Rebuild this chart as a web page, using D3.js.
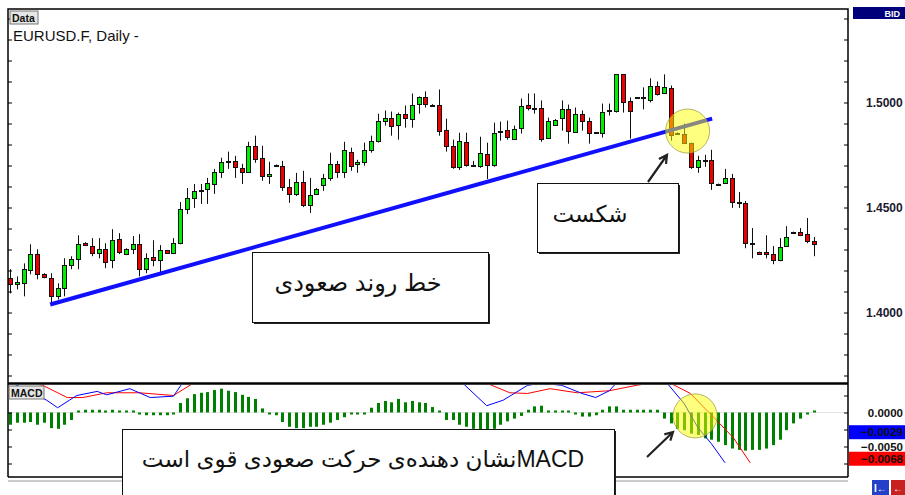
<!DOCTYPE html>
<html>
<head>
<meta charset="utf-8">
<script src="https://cdn.jsdelivr.net/npm/d3@7"></script>
<style>
body { margin: 0; background: #fff; }
svg { display: block; font-family: "Liberation Sans", Arial, sans-serif; }
</style>
</head>
<body>
<div id="graph"></div>
<script>
// EURUSD daily candles
var open = [
  1.4163,1.4134,1.4139,1.4201,1.4278,1.4182,1.4163,1.4077,1.4115,1.4225,
  1.4254,1.4330,1.4316,1.4282,1.4301,1.4249,1.4349,1.4278,1.4301,1.4325,
  1.4206,1.4263,1.4249,1.4297,1.4282,1.4330,1.4493,1.4545,1.4576,1.4589,
  1.4612,1.4670,1.4718,1.4722,1.4689,1.4670,1.4794,1.4737,1.4651,1.4699,
  1.4699,1.4598,1.4565,1.4622,1.4512,1.4565,1.4608,1.4641,1.4708,1.4670,
  1.4766,1.4708,1.4718,1.4775,1.4818,1.4914,1.4928,1.4890,1.4943,1.4923,
  1.4990,1.5024,1.4990,1.4986,1.4871,1.4794,1.4694,1.4813,1.4703,1.4699,
  1.4756,1.4703,1.4861,1.4871,1.4828,1.4876,1.4986,1.4976,1.4976,1.4833,
  1.4895,1.4923,1.4967,1.4861,1.4947,1.4914,1.4858,1.4856,1.4962,1.4957,
  1.5134,1.5005,1.5024,1.5024,1.5010,1.5077,1.5043,1.5067,1.4856,1.4852,
  1.4809,1.4694,1.4727,1.4727,1.4608,1.4617,1.4641,1.4526,1.4522,1.4330,
  1.4287,1.4287,1.4278,1.4249,1.4316,1.4383,1.4383,1.4373,1.4340];
var high = [
  1.4206,1.4172,1.4234,1.4325,1.4301,1.4187,1.4187,1.4139,1.4258,1.4268,
  1.4368,1.4335,1.4354,1.4354,1.4330,1.4397,1.4378,1.4306,1.4364,1.4373,
  1.4282,1.4344,1.4321,1.4297,1.4354,1.4526,1.4593,1.4612,1.4612,1.4641,
  1.4684,1.4737,1.4766,1.4746,1.4708,1.4813,1.4842,1.4794,1.4718,1.4705,
  1.4722,1.4636,1.4665,1.4675,1.4641,1.4593,1.4660,1.4761,1.4722,1.4813,
  1.4785,1.4727,1.4809,1.4842,1.4947,1.4962,1.4957,1.4952,1.4986,1.5043,
  1.5029,1.5053,1.4992,1.5062,1.4923,1.4823,1.4856,1.4856,1.4722,1.4837,
  1.4809,1.4904,1.4909,1.4914,1.4890,1.5019,1.5043,1.5043,1.5010,1.4928,
  1.4921,1.5010,1.4990,1.4976,1.4962,1.4928,1.4858,1.4995,1.4995,1.5134,
  1.5134,1.5024,1.5026,1.5072,1.5115,1.5100,1.5134,1.5081,1.4858,1.4900,
  1.4809,1.4746,1.4751,1.4775,1.4614,1.4684,1.4660,1.4574,1.4531,1.4402,
  1.4290,1.4368,1.4316,1.4354,1.4411,1.4385,1.4402,1.4450,1.4359];
var low = [
  1.4091,1.4110,1.4077,1.4182,1.4158,1.4163,1.4038,1.4062,1.4077,1.4206,
  1.4206,1.4316,1.4268,1.4258,1.4211,1.4211,1.4278,1.4273,1.4278,1.4172,
  1.4187,1.4220,1.4182,1.4282,1.4278,1.4325,1.4469,1.4498,1.4517,1.4517,
  1.4565,1.4641,1.4684,1.4641,1.4612,1.4670,1.4713,1.4627,1.4612,1.4699,
  1.4579,1.4522,1.4555,1.4502,1.4474,1.4560,1.4579,1.4627,1.4641,1.4641,
  1.4675,1.4665,1.4699,1.4761,1.4809,1.4890,1.4842,1.4823,1.4880,1.4880,
  1.4947,1.4976,1.4984,1.4842,1.4766,1.4684,1.4679,1.4694,1.4699,1.4689,
  1.4636,1.4694,1.4818,1.4823,1.4823,1.4852,1.4962,1.4947,1.4813,1.4828,
  1.4893,1.4866,1.4804,1.4856,1.4866,1.4804,1.4856,1.4833,1.4938,1.4952,
  1.4952,1.4828,1.5020,1.4967,1.5000,1.5033,1.5043,1.4818,1.4852,1.4804,
  1.4684,1.4665,1.4694,1.4584,1.4606,1.4612,1.4498,1.4498,1.4306,1.4258,
  1.4276,1.4258,1.4230,1.4244,1.4316,1.4380,1.4364,1.4330,1.4268];
var close = [
  1.4134,1.4144,1.4206,1.4278,1.4182,1.4167,1.4077,1.4115,1.4225,1.4254,
  1.4325,1.4321,1.4282,1.4301,1.4239,1.4344,1.4287,1.4301,1.4325,1.4206,
  1.4258,1.4249,1.4297,1.4282,1.4330,1.4493,1.4545,1.4579,1.4581,1.4617,
  1.4670,1.4718,1.4722,1.4694,1.4670,1.4794,1.4732,1.4651,1.4660,1.4703,
  1.4598,1.4565,1.4622,1.4512,1.4560,1.4589,1.4641,1.4708,1.4670,1.4775,
  1.4699,1.4718,1.4775,1.4818,1.4914,1.4928,1.4890,1.4943,1.4923,1.4990,
  1.5024,1.4990,1.4986,1.4861,1.4794,1.4694,1.4818,1.4703,1.4699,1.4761,
  1.4703,1.4856,1.4863,1.4837,1.4876,1.4981,1.4971,1.4974,1.4828,1.4914,
  1.4919,1.4967,1.4861,1.4947,1.4914,1.4856,1.4856,1.4957,1.4964,1.5134,
  1.5000,1.4957,1.5022,1.5019,1.5077,1.5038,1.5072,1.4842,1.4854,1.4809,
  1.4694,1.4727,1.4722,1.4617,1.4612,1.4641,1.4526,1.4522,1.4330,1.4325,
  1.4278,1.4278,1.4249,1.4311,1.4359,1.4381,1.4368,1.4340,1.4325];

// MACD histogram, one bar per candle
var hist = [
  -0.0018,-0.0015,-0.0015,-0.0014,-0.0018,-0.0015,-0.0023,-0.0024,-0.0018,-0.0011,
   0.0001, 0.0004, 0.0004, 0.0004, 0.0002, 0.0004, 0.0002, 0.0001, 0.0001,-0.0002,
  -0.0004,-0.0004,-0.0004,-0.0004,-0.0001, 0.0014, 0.0021, 0.0027, 0.0029, 0.0030,
   0.0033, 0.0035, 0.0032, 0.0030, 0.0026, 0.0023, 0.0020, 0.0006,-0.0001,-0.0004,
  -0.0014,-0.0021,-0.0023,-0.0023,-0.0021,-0.0021,-0.0018,-0.0015,-0.0011,-0.0007,
  -0.0002,-0.0001,-0.0001, 0.0007, 0.0014, 0.0017, 0.0015, 0.0020, 0.0015, 0.0017,
   0.0015, 0.0014, 0.0008, 0.0001,-0.0011,-0.0011,-0.0018,-0.0021,-0.0024,-0.0025,
  -0.0025,-0.0024,-0.0018,-0.0013,-0.0009,-0.0005, 0.0004, 0.0009, 0.0010, 0.0001,
   0.0001, 0.0001, 0.0001,-0.0001,-0.0006,-0.0006,-0.0004, 0.0004, 0.0009, 0.0009,
   0.0004, 0.0004, 0.0004, 0.0004, 0.0004, 0.0004,-0.0009,-0.0016,-0.0024,-0.0026,
  -0.0031,-0.0033,-0.0038,-0.0040,-0.0043,-0.0048,-0.0053,-0.0055,-0.0056,-0.0055,
  -0.0055,-0.0053,-0.0048,-0.0040,-0.0026,-0.0016,-0.0009,-0.0001, 0.0001];

// MACD (blue) and signal (red) lines, points read where visible
var macdIdx = [0, 5.4, 7, 9.8, 12.8, 14.2, 17.6, 20.6, 24, 25.3, 27, 66.5, 70, 72.4, 76, 78, 81, 84, 86, 88, 89, 90.5, 96.5, 99, 101, 103, 105];
var macdVal = [0.0045, 0.0018, 0.0007, 0.0025, 0.0031, 0.0026, 0.0035, 0.0022, 0.0024, 0.0043, 0.0060, 0.0043, 0.0010, 0.0018, 0.0040, 0.0043, 0.0040, 0.0028, 0.0022, 0.0032, 0.0043, 0.0055, 0.0043, 0.0013, -0.0022, -0.0046, -0.0074];
var sigIdx = [0, 4.8, 8.4, 10.7, 14.2, 19, 24, 26.9, 30, 68, 70, 73.4, 76, 79.3, 83.3, 88, 92, 94, 95.5, 97, 99.9, 103.8, 106.2, 108.7];
var sigVal = [0.0050, 0.0040, 0.0022, 0.0022, 0.0029, 0.0029, 0.0025, 0.0043, 0.0060, 0.0060, 0.0043, 0.0029, 0.0028, 0.0035, 0.0029, 0.0032, 0.0040, 0.0043, 0.0046, 0.0043, 0.0028, -0.0012, -0.0037, -0.0074];

// axis ticks and labels
var priceTicks = d3.range(137, 155).map(function(d) { return d / 100; });
var priceLabels = [1.40, 1.45, 1.50];
var macdTicks = [0.0025, 0, -0.0025, -0.005, -0.0075];
var macdLabels = [0, -0.005];
var macdNow = [-0.0029, -0.0068];

// up-trend line (index, price)
var trendIdx = [5.9, 103.1];
var trendVal = [1.4038, 1.4923];

var W = 905, H = 495;
var main = {left: 8, right: 848, top: 9, bottom: 383};
var sub = {top: 384, bottom: 477};

var svg = d3.select("#graph").append("svg")
    .attr("width", W)
    .attr("height", H);

var x = d3.scaleLinear().domain([0, open.length - 1]).range([10, 813.6]);
var y = d3.scaleLinear().domain([1.4, 1.5]).range([312.5, 102.5]);
var ym = d3.scaleLinear().domain([-0.005, 0]).range([446.5, 412.5]);

var defs = svg.append("defs");
defs.append("clipPath").attr("id", "clipMain").append("rect")
    .attr("x", main.left).attr("y", main.top)
    .attr("width", main.right - main.left).attr("height", main.bottom - main.top);
defs.append("clipPath").attr("id", "clipSub").append("rect")
    .attr("x", main.left).attr("y", sub.top + 1)
    .attr("width", main.right - main.left).attr("height", sub.bottom - sub.top - 1);

// ---- MACD panel
var gs = svg.append("g").attr("clip-path", "url(#clipSub)");
gs.append("line")
    .attr("x1", main.left).attr("x2", main.right)
    .attr("y1", ym(0)).attr("y2", ym(0))
    .style("stroke", "#e4e4e4");
gs.selectAll(".bar")
    .data(hist)
  .enter().append("rect")
    .attr("class", "bar")
    .attr("x", function(d, i) { return Math.round(x(i)) - 1; })
    .attr("width", 3)
    .attr("y", function(d) { var h = Math.max(2, Math.abs(ym(d) - ym(0))); return d >= 0 ? ym(0) - h : ym(0); })
    .attr("height", function(d) { return Math.max(2, Math.abs(ym(d) - ym(0))); })
    .style("fill", "#008000");

var mline = d3.line()
    .x(function(d) { return x(d[0]); })
    .y(function(d) { return ym(d[1]); });
gs.append("path")
    .datum(d3.zip(sigIdx, sigVal))
    .attr("d", mline)
    .style("fill", "none").style("stroke", "#ff0000").style("stroke-width", 1);
gs.append("path")
    .datum(d3.zip(macdIdx, macdVal))
    .attr("d", mline)
    .style("fill", "none").style("stroke", "#0000ff").style("stroke-width", 1);

// ---- candles
var gc = svg.append("g").attr("clip-path", "url(#clipMain)");
var candles = gc.selectAll(".candle")
    .data(open)
  .enter().append("g")
    .attr("class", "candle")
    .attr("transform", function(d, i) { return "translate(" + (Math.round(x(i)) + 0.5) + ",0)"; });
candles.append("line")
    .attr("y1", function(d, i) { return y(high[i]); })
    .attr("y2", function(d, i) { return y(low[i]); })
    .style("stroke", "#111").style("stroke-width", 1);
candles.append("rect")
    .attr("x", -2)
    .attr("width", 4)
    .attr("y", function(d, i) { return Math.round(y(Math.max(open[i], close[i]))) + 0.5; })
    .attr("height", function(d, i) { return Math.max(1, Math.round(Math.abs(y(open[i]) - y(close[i])))); })
    .style("fill", function(d, i) { return close[i] >= open[i] ? "#00ee00" : "#ee0000"; })
    .style("stroke", "#111").style("stroke-width", 1);

// trend line
gc.append("line")
    .attr("x1", x(trendIdx[0])).attr("y1", y(trendVal[0]))
    .attr("x2", x(trendIdx[1])).attr("y2", y(trendVal[1]))
    .style("stroke", "#1010ff").style("stroke-width", 4);

// ---- frame and axes
svg.append("path")
    .attr("d", "M" + main.left + "," + sub.bottom + "V" + main.top + "H" + main.right + "V" + sub.bottom)
    .style("fill", "none").style("stroke", "#000").style("stroke-width", 1.5);
svg.append("line")
    .attr("x1", main.left).attr("x2", main.right)
    .attr("y1", main.bottom + 0.5).attr("y2", main.bottom + 0.5)
    .style("stroke", "#000").style("stroke-width", 2.5);
svg.append("line")
    .attr("x1", main.left).attr("x2", main.right)
    .attr("y1", sub.bottom).attr("y2", sub.bottom)
    .style("stroke", "#000").style("stroke-width", 1.5);
svg.append("line")
    .attr("x1", main.left).attr("x2", main.right)
    .attr("y1", sub.bottom + 4).attr("y2", sub.bottom + 4)
    .style("stroke", "#999").style("stroke-width", 1);

function ticks(g) {
  g.select(".domain").remove();
  g.selectAll(".tick line").style("stroke", "#000");
  g.selectAll(".tick text").remove();
}
var priceIn = priceTicks.filter(function(d) { return y(d) > main.top + 2 && y(d) < main.bottom - 2; });
svg.append("g")
    .attr("transform", "translate(" + main.right + ",0)")
    .call(d3.axisLeft(y).tickValues(priceIn).tickSize(4))
    .call(ticks);
svg.append("g")
    .attr("transform", "translate(" + main.left + ",0)")
    .call(d3.axisRight(y).tickValues(priceIn).tickSize(4))
    .call(ticks);
var macdIn = macdTicks.filter(function(d) { return ym(d) > sub.top + 2 && ym(d) < sub.bottom - 2; });
svg.append("g")
    .attr("transform", "translate(" + main.right + ",0)")
    .call(d3.axisLeft(ym).tickValues(macdIn).tickSize(4))
    .call(ticks);
svg.append("g")
    .attr("transform", "translate(" + main.left + ",0)")
    .call(d3.axisRight(ym).tickValues(macdIn).tickSize(4))
    .call(ticks);

svg.selectAll(".plabel")
    .data(priceLabels)
  .enter().append("text")
    .attr("class", "plabel")
    .attr("x", 866)
    .attr("y", function(d) { return y(d) + 4; })
    .style("font-size", "12px").style("font-weight", "bold").style("fill", "#1a1a2e")
    .text(d3.format(".4f"));

// current MACD / signal value boxes
var nowColors = ["#0000ff", "#ff0000"];
svg.selectAll(".nowbox")
    .data(macdNow)
  .enter().append("rect")
    .attr("class", "nowbox")
    .attr("x", main.right + 1)
    .attr("y", function(d) { return ym(d) - 7; })
    .attr("width", W - main.right)
    .attr("height", 14)
    .style("fill", function(d, i) { return nowColors[i]; });
svg.selectAll(".mlabel")
    .data(macdLabels.concat(macdNow))
  .enter().append("text")
    .attr("class", "mlabel")
    .attr("x", 903)
    .attr("y", function(d) { return ym(d) + 4; })
    .style("text-anchor", "end")
    .style("font-size", "11.5px").style("font-weight", "bold").style("fill", "#111")
    .text(d3.format(".4f"));

// BID tag
svg.append("rect").attr("x", 853).attr("y", 7).attr("width", 52).attr("height", 12).style("fill", "#00007a");
svg.append("text").attr("x", 900).attr("y", 16.5)
    .style("text-anchor", "end").style("font-size", "9px").style("font-weight", "bold").style("fill", "#fff")
    .text("BID");

// buttons
function button(bx, by, bw, label) {
  svg.append("rect").attr("x", bx).attr("y", by).attr("width", bw).attr("height", 13)
      .style("fill", "#e6e6e6").style("stroke", "#777");
  svg.append("text").attr("x", bx + 2).attr("y", by + 10.5)
      .style("font-size", "10.5px").style("font-weight", "bold").style("fill", "#111")
      .text(label);
}
button(10, 11, 28, "Data");
button(9, 386, 35, "MACD");

svg.append("text")
    .attr("x", 13).attr("y", 41)
    .style("font-size", "15px").style("fill", "#111")
    .text("EURUSD.F, Daily -");

// scroll icons bottom right
svg.append("rect").attr("x", 872).attr("y", 480).attr("width", 17).attr("height", 16).style("fill", "#2440c8");
svg.append("rect").attr("x", 891).attr("y", 480).attr("width", 17).attr("height", 16).style("fill", "#c82020");
svg.append("text").attr("x", 874).attr("y", 492).style("font-size", "10px").style("font-weight", "bold").style("fill", "#fff").text("I\u2190");
svg.append("text").attr("x", 893).attr("y", 492).style("font-size", "10px").style("font-weight", "bold").style("fill", "#fff").text("\u2190");

// ---- annotation boxes
var boxes = [
  {x: 252, y: 252, w: 236, h: 70, text: "خط روند صعودی", tx: 358, ty: 291, size: 24},
  {x: 537, y: 183, w: 141, h: 69, text: "شکست", tx: 590, ty: 222, size: 23},
  {x: 122, y: 429, w: 492, h: 80, text: "MACDنشان دهنده\u200cی حرکت صعودی قوی است", tx: 363, ty: 467, size: 23}
];
var gb = svg.selectAll(".note").data(boxes).enter().append("g").attr("class", "note");
gb.append("rect")
    .attr("x", function(d) { return d.x + 2; }).attr("y", function(d) { return d.y + 2; })
    .attr("width", function(d) { return d.w; }).attr("height", function(d) { return d.h; })
    .style("fill", "#222");
gb.append("rect")
    .attr("x", function(d) { return d.x + 0.5; }).attr("y", function(d) { return d.y + 0.5; })
    .attr("width", function(d) { return d.w; }).attr("height", function(d) { return d.h; })
    .style("fill", "#fff").style("stroke", "#111").style("stroke-width", 1);
gb.append("text")
    .attr("x", function(d) { return d.tx; }).attr("y", function(d) { return d.ty; })
    .attr("direction", "rtl")
    .style("text-anchor", "middle")
    .style("font-family", "'Liberation Sans', 'DejaVu Sans', sans-serif")
    .style("font-size", function(d) { return d.size + "px"; })
    .style("fill", "#111")
    .text(function(d) { return d.text; });

// arrows pointing at the break
var arrows = [
  {from: [648, 182], to: [667, 155]},
  {from: [647, 457], to: [673, 432]}
];
arrows.forEach(function(a) {
  var ang = Math.atan2(a.to[1] - a.from[1], a.to[0] - a.from[0]);
  var hl = 9, hw = 0.5;
  var p1 = [a.to[0] - hl * Math.cos(ang - hw), a.to[1] - hl * Math.sin(ang - hw)];
  var p2 = [a.to[0] - hl * Math.cos(ang + hw), a.to[1] - hl * Math.sin(ang + hw)];
  svg.append("path")
      .attr("d", "M" + a.from + "L" + a.to + "M" + p1 + "L" + a.to + "L" + p2)
      .style("fill", "none").style("stroke", "#222").style("stroke-width", 2.2);
});

// highlight circles
svg.append("circle")
    .attr("cx", x(99.5)).attr("cy", y(1.4864)).attr("r", 22)
    .style("fill", "rgba(255,255,0,0.5)").style("stroke", "rgba(150,150,60,0.7)");
svg.append("circle")
    .attr("cx", x(100.6)).attr("cy", ym(-0.0005)).attr("r", 22)
    .style("fill", "rgba(255,255,0,0.5)").style("stroke", "rgba(150,150,60,0.7)");
</script>
</body>
</html>
